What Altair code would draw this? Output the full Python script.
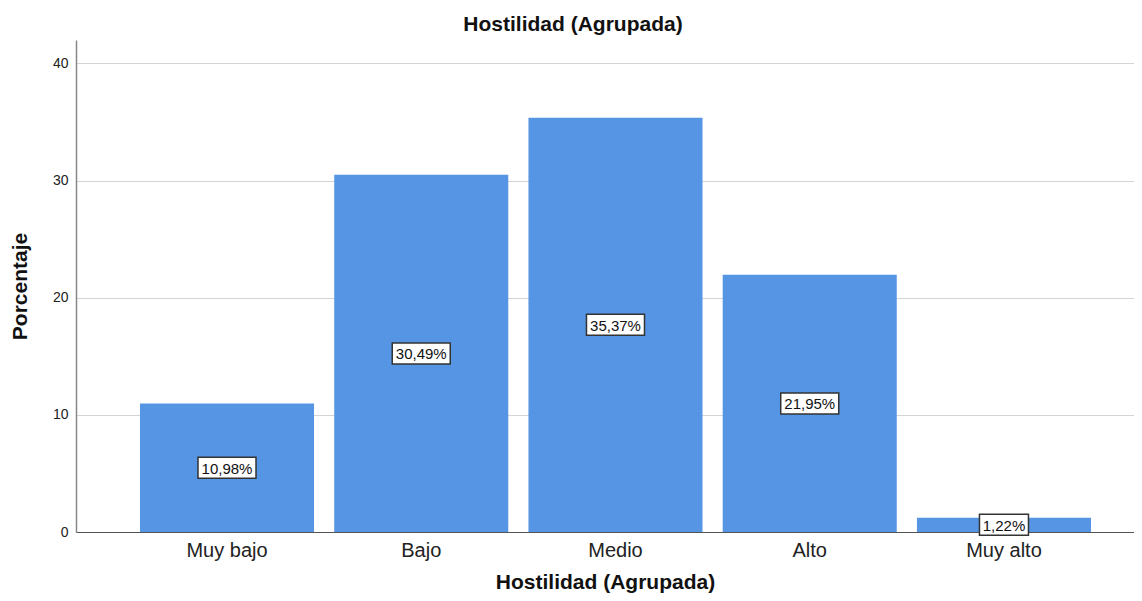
import altair as alt
import pandas as pd

categories = ["Muy bajo", "Bajo", "Medio", "Alto", "Muy alto"]
values = [10.98, 30.49, 35.37, 21.95, 1.22]
labels = ["10,98%", "30,49%", "35,37%", "21,95%", "1,22%"]
box_kind = ["wide", "wide", "wide", "wide", "narrow"]

df = pd.DataFrame({"cat": categories, "val": values, "lab": labels, "kind": box_kind})

FONT = "Liberation Sans"

x = alt.X("cat:N", sort=categories,
          scale=alt.Scale(paddingInner=0.104, paddingOuter=0.2754, align=0.598),
          axis=alt.Axis(title="Hostilidad (Agrupada)", labelAngle=0, ticks=False,
                        labelFontSize=20, labelColor="#222222", labelFont=FONT,
                        labelPadding=8, titleFontSize=21, titleFont=FONT,
                        titleFontWeight="bold", titleColor="#111111", titlePadding=11,
                        domainColor="#555555", domainWidth=1.2, grid=False))
y = alt.Y("val:Q", scale=alt.Scale(domain=[0, 42], nice=False),
          axis=alt.Axis(title="Porcentaje", values=[0, 10, 20, 30, 40], ticks=False,
                        labelFontSize=14, labelFont=FONT, labelColor="#222222",
                        labelPadding=8, titleFontSize=21, titleFont=FONT,
                        titleFontWeight="bold", titleColor="#111111", titlePadding=22,
                        domainColor="#888888", domainWidth=1.5,
                        gridColor="#d4d4d4", gridWidth=1.2))

base = alt.Chart(df)

bars = base.mark_bar(color="#5595e3").encode(x=x, y=y)

mid = alt.Y("mid:Q", scale=alt.Scale(domain=[0, 42], nice=False))

boxes = base.transform_calculate(mid="datum.val / 2").mark_point(
    filled=True, fill="white", stroke="#333333", strokeWidth=1.5, opacity=1, size=4
).encode(
    x=alt.X("cat:N", sort=categories),
    y=mid,
    shape=alt.Shape("kind:N", legend=None,
                    scale=alt.Scale(domain=["wide", "narrow"],
                                    range=["M-29,-10.5H29V10.5H-29Z", "M-24.5,-10.5H24.5V10.5H-24.5Z"])),
)

texts = base.transform_calculate(mid="datum.val / 2").mark_text(
    font=FONT, fontSize=15, color="#111111", baseline="middle", dy=1
).encode(x=alt.X("cat:N", sort=categories), y=mid, text="lab:N")

chart = alt.layer(bars, boxes, texts).properties(
    width=1058, height=492,
    background="white",
    title=alt.TitleParams("Hostilidad (Agrupada)", font=FONT, fontSize=21, fontWeight="bold",
                          color="#111111", dx=-32, offset=-12, baseline="alphabetic"),
    autosize=alt.AutoSizeParams(type="none"),
    padding={"left": 68, "top": 32, "right": 0, "bottom": 61},
).configure_view(stroke=None, strokeWidth=0)

chart.save("out.html", embed_options={"renderer": "svg", "actions": False})
